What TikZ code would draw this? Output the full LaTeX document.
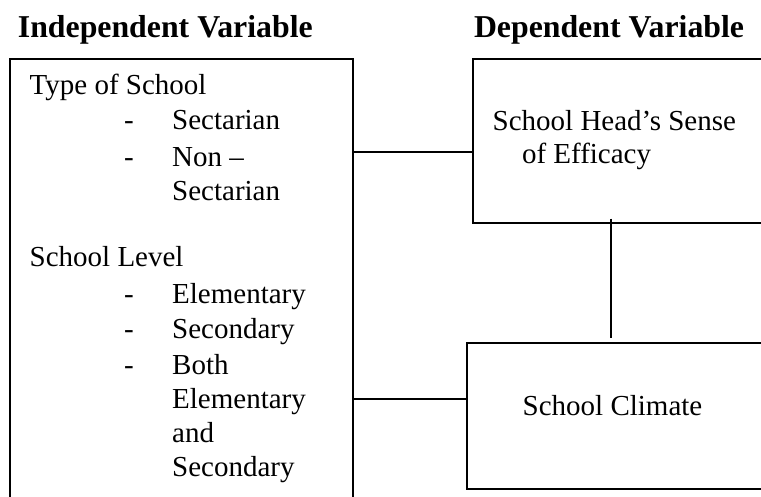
\documentclass[tikz,border=0pt]{standalone}
\usepackage{fontspec}
\setmainfont{Liberation Serif}
\begin{document}
\begin{tikzpicture}[x=1pt,y=-1pt,
  box/.style={draw,line width=1.9pt,rectangle,anchor=north west,inner sep=0pt},
  conn/.style={line width=1.7pt},
  txt/.style={anchor=base west,inner sep=0pt,font=\fontsize{29}{34}\selectfont},
  head/.style={anchor=base west,inner sep=0pt,font=\fontsize{31.8}{36}\selectfont\bfseries}]
\useasboundingbox (0,0) rectangle (761,497);
\clip (0,0) rectangle (761,497);
% boxes
\node[box,minimum width=343.3pt,minimum height=480pt] (iv) at (9,58.3) {};
\node[box,minimum width=330pt,minimum height=163.4pt] (dv1) at (471.7,58.3) {};
\node[box,minimum width=330pt,minimum height=146.6pt] (dv2) at (465.7,341.7) {};
% headings
\node[head] (hiv) at (17.7,37.7) {Independent Variable};
\node[head] (hdv) at (473.8,37.7) {Dependent Variable};
% left texts
\node[txt] (t1) at (29.5,95) {Type of School};
\node[txt] (d1) at (124,130) {-};
\node[txt] (t2) at (172,130) {Sectarian};
\node[txt] (d2) at (124,167) {-};
\node[txt] (t3) at (172,167) {Non –};
\node[txt] (t4) at (172,201) {Sectarian};
\node[txt] (t5) at (29.5,267) {School Level};
\node[txt] (d3) at (124,303.5) {-};
\node[txt] (t6) at (172,303.5) {Elementary};
\node[txt] (d4) at (124,338.5) {-};
\node[txt] (t7) at (172,338.5) {Secondary};
\node[txt] (d5) at (124,374) {-};
\node[txt] (t8) at (172,374) {Both};
\node[txt] (t9) at (172,408.5) {Elementary};
\node[txt] (t10) at (172,442.7) {and};
\node[txt] (t11) at (172,476.7) {Secondary};
% right texts
\node[txt] (r1) at (492.5,130.7) {School Head’s Sense};
\node[txt] (r2) at (521.8,163.7) {of Efficacy};
\node[txt] (r3) at (522.5,415) {School Climate};
% connectors
\coordinate (c1) at (0,151.7);
\coordinate (c2) at (0,399);
\coordinate (c3) at (611,0);
\draw[conn] (iv.east |- c1) -- (dv1.west |- c1);
\draw[conn] (iv.east |- c2) -- ([xshift=2pt]dv2.west |- c2);
\draw[conn] ([yshift=5pt]dv1.south -| c3) -- ([yshift=4pt]dv2.north -| c3);
\end{tikzpicture}
\end{document}
